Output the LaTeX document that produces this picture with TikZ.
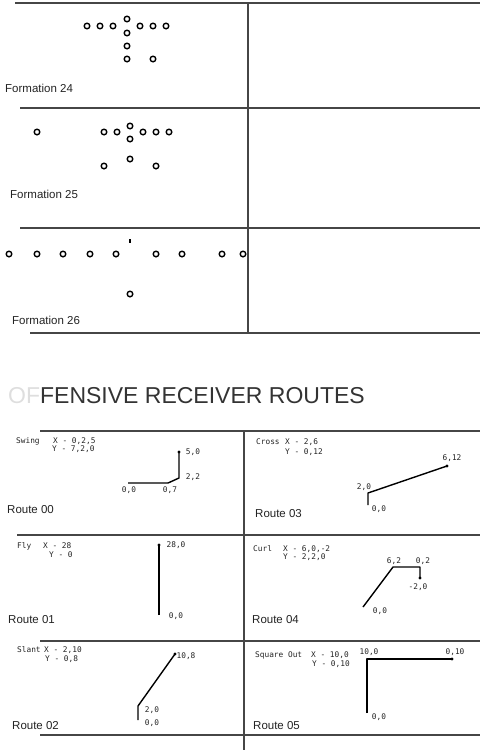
\documentclass[tikz,border=0pt]{standalone}
\usepackage{fontspec}
\setmainfont{Liberation Sans}
\newfontfamily\plotFont{DejaVu Sans Mono}
\usetikzlibrary{calc}
\definecolor{inkGray}{RGB}{35,35,35}
\definecolor{ruleGray}{RGB}{70,70,70}
\definecolor{fadeGray}{RGB}{222,222,222}
\newcommand{\plotSize}{\fontsize{7.8}{9}\selectfont}
\tikzset{
  gridRule/.style={draw=ruleGray,line width=1.8pt},
  player/.style={circle,draw=black,line width=1.4pt,minimum size=5.6pt,inner sep=0pt},
  ballMark/.style={rectangle,fill=black,minimum width=1.6pt,minimum height=3.2pt,inner sep=0pt},
  cellTitle/.style={anchor=base west,inner sep=0pt,text=inkGray,font=\fontsize{11.5}{12}\selectfont},
  routeHead/.style={anchor=west,inner sep=0pt,text=inkGray,font=\plotFont\plotSize},
  pointTag/.style={inner sep=0pt,text=inkGray,font=\plotFont\plotSize},
  routeLine/.style={draw=black,line width=1.4pt,line join=round},
  tipDot/.style={circle,fill=black,minimum size=3.4pt,inner sep=0pt}
}

\begin{document}
\begin{tikzpicture}[x=1pt,y=-1pt]
\useasboundingbox (0,0) rectangle (480,750);
% formation grid
\draw[gridRule] (15,3) -- (480,3);
\draw[gridRule] (20,108) -- (480,108);
\draw[gridRule] (20,228) -- (480,228);
\draw[gridRule] (30,333) -- (480,333);
\draw[gridRule] (248,3) -- (248,333);

\foreach \x/\y [count=\i] in {87/26,100/26,113/26,127/19,140/26,153/26,166/26,127/33,127/46,127/59,153/59}
  \node[player] (fa\i) at (\x,\y) {};
\node[cellTitle] (fmA) at (5,92) {Formation 24};

\foreach \x/\y [count=\i] in {37/132,104/132,117/132,130/126,143/132,156/132,169/132,130/139,130/159,104/166,156/166}
  \node[player] (fb\i) at (\x,\y) {};
\node[cellTitle] (fmB) at (10,198) {Formation 25};

\foreach \x/\y [count=\i] in {9/254,37/254,63/254,90/254,116/254,156/254,182/254,222/254,243/254,130/294}
  \node[player] (fc\i) at (\x,\y) {};
\node[ballMark] (fcBall) at (130,241) {};
\node[cellTitle] (fmC) at (12,324) {Formation 26};

% heading
\node[anchor=base west,inner sep=0pt,text=black!80,font=\fontsize{23}{24}\selectfont] (heading) at (8,403)
  {\textcolor{fadeGray}{OF}FENSIVE RECEIVER ROUTES};

% route grid
\draw[gridRule] (40,431) -- (480,431);
\draw[gridRule] (17,535) -- (480,535);
\draw[gridRule] (40,641) -- (480,641);
\draw[gridRule] (40,735) -- (480,735);
\draw[gridRule] (244,431) -- (244,750);

% Route 00
\node[routeHead] (swName) at (16,441) {Swing};
\node[routeHead] (swX) at (53,441) {X - 0,2,5};
\node[routeHead] (swY) at (52,449) {Y - 7,2,0};
\coordinate (sw0) at (128,483);
\coordinate (sw1) at (168,483);
\coordinate (sw2) at (179,478);
\node[tipDot] (sw3) at (179,452) {};
\draw[routeLine] (sw0) -- (sw1) -- (sw2) -- (sw3.center);
\node[pointTag] at (193,452) {5,0};
\node[pointTag] at (193,477) {2,2};
\node[pointTag] at (129,490) {0,0};
\node[pointTag] at (170,490) {0,7};
\node[cellTitle] (rtA) at (7,513) {Route 00};

% Route 03
\node[routeHead] (crName) at (256,442) {Cross};
\node[routeHead] (crX) at (285,442) {X - 2,6};
\node[routeHead] (crY) at (285,452) {Y - 0,12};
\coordinate (cr0) at (368,505);
\coordinate (cr1) at (368,493);
\node[tipDot] (cr2) at (447,466) {};
\draw[routeLine] (cr0) -- (cr1) -- (cr2.center);
\node[pointTag] at (452,458) {6,12};
\node[pointTag] at (364,487) {2,0};
\node[pointTag] at (379,509) {0,0};
\node[cellTitle] (rtD) at (255,517) {Route 03};

% Route 01
\node[routeHead] (flName) at (17,546) {Fly};
\node[routeHead] (flX) at (43,546) {X - 28};
\node[routeHead] (flY) at (49,555) {Y - 0};
\coordinate (fl0) at (159,615);
\node[tipDot] (fl1) at (159,545) {};
\draw[routeLine] (fl0) -- (fl1.center);
\node[pointTag] at (176,545) {28,0};
\node[pointTag] at (176,616) {0,0};
\node[cellTitle] (rtB) at (8,623) {Route 01};

% Route 04
\node[routeHead] (cuName) at (253,549) {Curl};
\node[routeHead] (cuX) at (283,549) {X - 6,0,-2};
\node[routeHead] (cuY) at (283,557) {Y - 2,2,0};
\coordinate (cu0) at (363,607);
\coordinate (cu1) at (393,567);
\coordinate (cu2) at (420,567);
\node[tipDot] (cu3) at (420,578) {};
\draw[routeLine] (cu0) -- (cu1) -- (cu2) -- (cu3.center);
\node[pointTag] at (394,561) {6,2};
\node[pointTag] at (423,561) {0,2};
\node[pointTag] at (418,587) {-2,0};
\node[pointTag] at (380,611) {0,0};
\node[cellTitle] (rtE) at (252,623) {Route 04};

% Route 02
\node[routeHead] (slName) at (17,650) {Slant};
\node[routeHead] (slX) at (44,650) {X - 2,10};
\node[routeHead] (slY) at (45,659) {Y - 0,8};
\coordinate (sl0) at (138,720);
\coordinate (sl1) at (138,706);
\node[tipDot] (sl2) at (175,654) {};
\draw[routeLine] (sl0) -- (sl1) -- (sl2.center);
\node[pointTag] at (186,656) {10,8};
\node[pointTag] at (152,710) {2,0};
\node[pointTag] at (152,723) {0,0};
\node[cellTitle] (rtC) at (12,729) {Route 02};

% Route 05
\node[routeHead] (sqName) at (255,655) {Square Out};
\node[routeHead] (sqX) at (311,655) {X - 10,0};
\node[routeHead] (sqY) at (312,664) {Y - 0,10};
\coordinate (sq0) at (367,713);
\coordinate (sq1) at (367,659);
\node[tipDot] (sq2) at (452,659) {};
\draw[routeLine] (sq0) -- (sq1) -- (sq2.center);
\node[pointTag] at (369,652) {10,0};
\node[pointTag] at (455,652) {0,10};
\node[pointTag] at (379,717) {0,0};
\node[cellTitle] (rtF) at (253,729) {Route 05};
\end{tikzpicture}
\end{document}
